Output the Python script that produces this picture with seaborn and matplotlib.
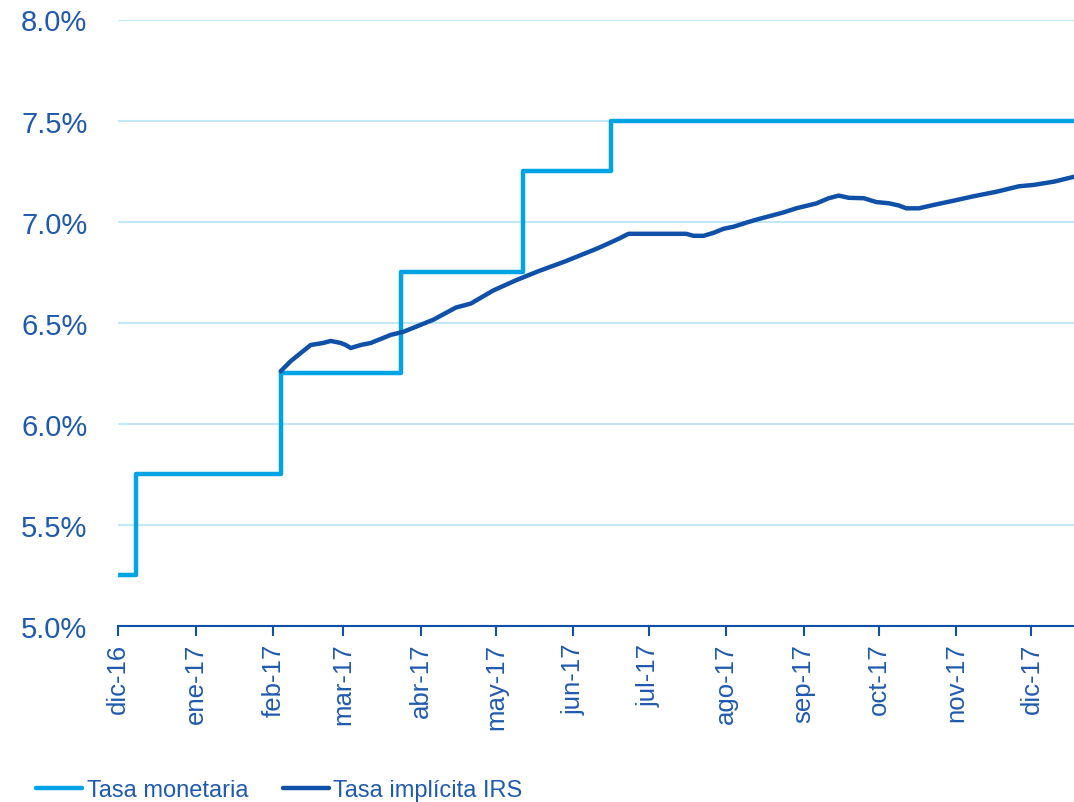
import matplotlib
matplotlib.use("Agg")
import matplotlib.pyplot as plt
import pandas as pd
import seaborn as sns

# Policy rate (step changes) and implied IRS rate, in percent
policy_dates = ["2016-12-01", "2016-12-08", "2017-02-04", "2017-03-24",
                "2017-05-12", "2017-06-16", "2017-12-18"]
policy_rate = [5.25, 5.75, 6.25, 6.75, 7.25, 7.50, 7.50]

irs_dates = ["2017-02-04", "2017-02-08", "2017-02-12", "2017-02-16", "2017-02-21",
             "2017-02-24", "2017-02-28", "2017-03-02", "2017-03-04", "2017-03-08",
             "2017-03-12", "2017-03-16", "2017-03-20", "2017-03-25", "2017-03-30",
             "2017-04-06", "2017-04-15", "2017-04-21", "2017-04-30", "2017-05-09",
             "2017-05-18", "2017-05-29", "2017-06-03", "2017-06-11", "2017-06-19",
             "2017-06-23", "2017-07-16", "2017-07-19", "2017-07-23", "2017-07-27",
             "2017-07-31", "2017-08-04", "2017-08-09", "2017-08-14", "2017-08-24",
             "2017-08-29", "2017-09-06", "2017-09-11", "2017-09-15", "2017-09-19",
             "2017-09-25", "2017-09-30", "2017-10-05", "2017-10-09", "2017-10-12",
             "2017-10-17", "2017-10-23", "2017-10-31", "2017-11-08", "2017-11-17",
             "2017-11-26", "2017-12-02", "2017-12-10", "2017-12-18"]
irs_rate = [6.26, 6.31, 6.35, 6.39, 6.40,
            6.41, 6.40, 6.39, 6.375, 6.39,
            6.40, 6.42, 6.44, 6.455, 6.48,
            6.515, 6.575, 6.595, 6.66, 6.71,
            6.755, 6.805, 6.83, 6.87, 6.915,
            6.94, 6.94, 6.93, 6.93, 6.945,
            6.965, 6.975, 6.995, 7.013, 7.046,
            7.066, 7.09, 7.116, 7.129, 7.118,
            7.116, 7.097, 7.091, 7.08, 7.066,
            7.066, 7.083, 7.104, 7.126, 7.148,
            7.175, 7.182, 7.198, 7.222]

tick_dates = ["2016-12-01", "2017-01-01", "2017-02-01", "2017-03-01", "2017-04-01",
              "2017-05-01", "2017-06-01", "2017-07-01", "2017-08-01", "2017-09-01",
              "2017-10-01", "2017-11-01", "2017-12-01"]
tick_labels = ["dic-16", "ene-17", "feb-17", "mar-17", "abr-17", "may-17", "jun-17",
               "jul-17", "ago-17", "sep-17", "oct-17", "nov-17", "dic-17"]
y_ticks = [5.0, 5.5, 6.0, 6.5, 7.0, 7.5, 8.0]

LIGHT = "#00A3E4"
DARK = "#0F50A8"
TEXT = "#1F5AB0"
GRID = "#C2E7F8"

sns.set_theme(style="white")
plt.rcParams["font.family"] = ["Liberation Sans", "DejaVu Sans"]

fig = plt.figure(figsize=(10.74, 8.03), dpi=100)
ax = fig.add_axes([118 / 1074, 1 - 627 / 803, 1 - 118 / 1074, (627 - 20.5) / 803])

policy = pd.DataFrame({"fecha": pd.to_datetime(policy_dates), "tasa": policy_rate})
irs = pd.DataFrame({"fecha": pd.to_datetime(irs_dates), "tasa": irs_rate})

sns.lineplot(data=policy, x="fecha", y="tasa", ax=ax, color=LIGHT, linewidth=3.2,
             drawstyle="steps-post", label="Tasa monetaria")
sns.lineplot(data=irs, x="fecha", y="tasa", ax=ax, color=DARK, linewidth=3.2,
             label="Tasa implícita IRS")

ax.set_xlim(pd.Timestamp("2016-12-01"), pd.Timestamp("2017-12-18"))
ax.set_ylim(5.0, 8.0)
ax.set_yticks(y_ticks)
ax.set_yticklabels([f"{v:.1f}%" for v in y_ticks])
ax.set_xticks(pd.to_datetime(tick_dates))
ax.set_xticklabels(tick_labels, rotation=90)
ax.set_xlabel("")
ax.set_ylabel("")

ax.tick_params(axis="y", length=0, pad=22, labelsize=21, labelcolor=TEXT)
ax.tick_params(axis="x", length=7, width=1.5, color=DARK, pad=5,
               labelsize=18.5, labelcolor=TEXT, bottom=True)

for side in ("left", "right", "top"):
    ax.spines[side].set_visible(False)
ax.spines["bottom"].set_color(DARK)
ax.spines["bottom"].set_linewidth(1.5)

ax.yaxis.grid(True, color=GRID, linewidth=1.5)
ax.xaxis.grid(False)
ax.set_axisbelow(True)

handles, labels = ax.get_legend_handles_labels()
ax.get_legend().remove()
leg = fig.legend(handles, labels, loc="center left",
                 bbox_to_anchor=(36 / 1074, 1 - 791 / 803), ncol=2, frameon=False,
                 fontsize=17, handlelength=1.95, handletextpad=0.2,
                 columnspacing=1.45, borderpad=0, borderaxespad=0)
for t in leg.get_texts():
    t.set_color(TEXT)

fig.savefig("out.png", dpi=100)
